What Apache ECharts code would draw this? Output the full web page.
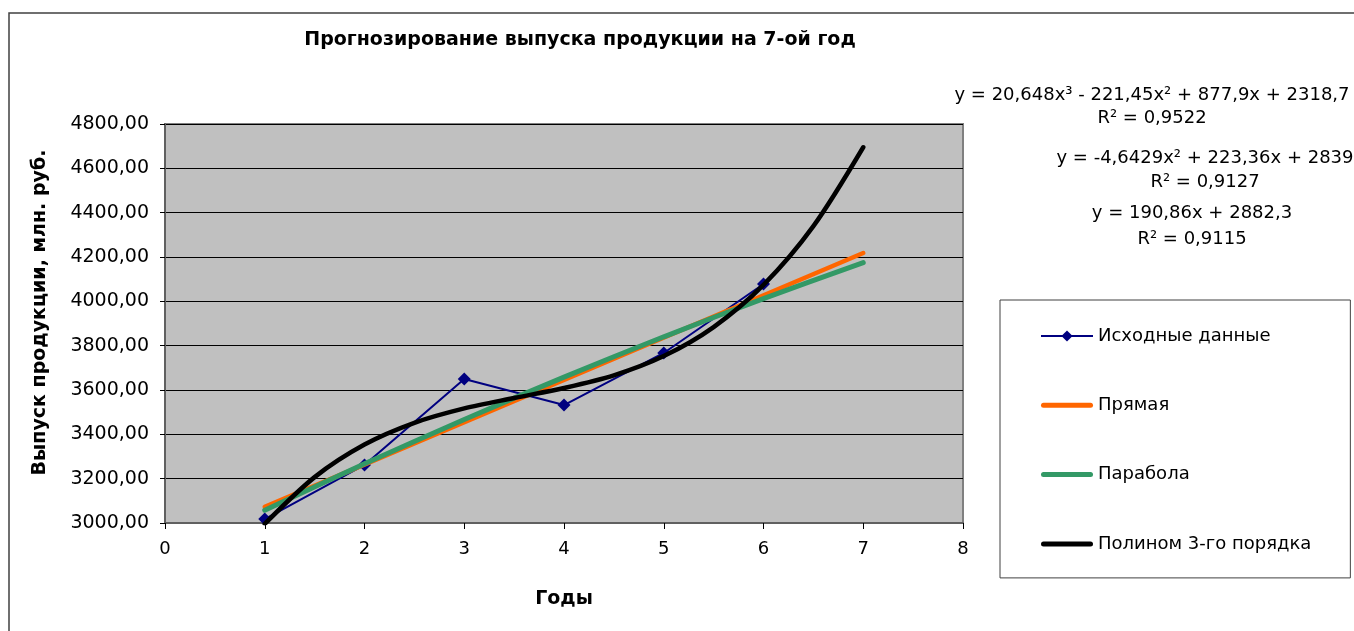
<!DOCTYPE html>
<html>
<head>
<meta charset="utf-8">
<script src="https://cdn.jsdelivr.net/npm/echarts@6/dist/echarts.min.js"></script>
<style>
  html, body { margin: 0; padding: 0; background: #fff; }
  #chart { width: 1354px; height: 631px; }
</style>
</head>
<body>
<div id="chart"></div>
<script>
// исходные данные
var years = [1, 2, 3, 4, 5, 6]
var output = [3018, 3262, 3650, 3532, 3767, 4078]
// линии тренда
var lineX = [1, 7]
var lineY = [3073, 4218]
var parabolaX = [1, 2, 3, 4, 5, 6, 7]
var parabolaY = [3058, 3267, 3467, 3658, 3840, 4012, 4175]
var cubicX = [1, 1.5, 2, 2.5, 3, 3.5, 4, 4.5, 5, 5.5, 6, 6.5, 7]
var cubicY = [2996, 3207, 3354, 3452, 3517, 3564, 3609, 3666, 3753, 3884, 4074, 4339, 4695]
var equations = [
  'y = 20,648x³ - 221,45x² + 877,9x + 2318,7', 'R² = 0,9522',
  'y = -4,6429x² + 223,36x + 2839', 'R² = 0,9127',
  'y = 190,86x + 2882,3', 'R² = 0,9115'
]

function pairs(xs, ys) {
  return xs.map(function (x, i) { return [x, ys[i]] })
}

var font = 'DejaVu Sans'
var eqPos = [[1152, 95], [1152, 118], [1205, 158], [1205, 182], [1192, 213], [1192, 239]]
var barIcon = 'path://M2.5,0 L49.5,0 A2.5,2.5 0 0 1 49.5,5 L2.5,5 A2.5,2.5 0 0 1 2.5,0 Z'

var chart = echarts.init(document.getElementById('chart'))
chart.setOption({
  backgroundColor: '#fff',
  animation: false,
  textStyle: { fontFamily: font },
  title: {
    text: 'Прогнозирование выпуска продукции на 7-ой год',
    left: 580,
    top: 31,
    padding: 0,
    textAlign: 'center',
    textStyle: { fontFamily: font, fontSize: 19, fontWeight: 'bold', color: '#000' }
  },
  grid: {
    left: 165,
    right: 391,
    top: 124,
    bottom: 108,
    show: true,
    backgroundColor: '#c0c0c0',
    borderColor: '#808080',
    borderWidth: 2
  },
  legend: {
    orient: 'vertical',
    left: 1000,
    top: 300,
    padding: [27, 39, 25, 40],
    itemGap: 51.3,
    itemWidth: 52,
    itemHeight: 14,
    backgroundColor: '#fff',
    borderColor: '#404040',
    borderWidth: 1,
    textStyle: { fontFamily: font, fontSize: 18, color: '#000' },
    data: [
      { name: 'Исходные данные' },
      { name: 'Прямая', icon: barIcon },
      { name: 'Парабола', icon: barIcon },
      { name: 'Полином 3-го порядка', icon: barIcon }
    ]
  },
  xAxis: {
    type: 'value',
    min: 0,
    max: 8,
    interval: 1,
    name: 'Годы',
    nameLocation: 'middle',
    nameGap: 67,
    nameTextStyle: { fontFamily: font, fontSize: 19, fontWeight: 'bold', color: '#000' },
    axisLine: { onZero: false, lineStyle: { color: '#606060', width: 2 } },
    axisTick: { show: true, length: 6, lineStyle: { color: '#000' } },
    axisLabel: { margin: 17, fontSize: 18, color: '#000' },
    splitLine: { show: false }
  },
  yAxis: {
    type: 'value',
    min: 3000,
    max: 4800,
    interval: 200,
    name: 'Выпуск продукции, млн. руб.',
    nameLocation: 'middle',
    nameGap: 115,
    nameTextStyle: { fontFamily: font, fontSize: 19, fontWeight: 'bold', color: '#000', padding: [0, 0, 0, 22] },
    axisLine: { show: true, lineStyle: { color: '#606060', width: 2 } },
    axisTick: { show: true, length: 5, lineStyle: { color: '#000' } },
    axisLabel: {
      margin: 16,
      fontSize: 19,
      color: '#000',
      formatter: function (v) { return v.toFixed(2).replace('.', ',') }
    },
    splitLine: { show: true, lineStyle: { color: '#000', width: 1 } }
  },
  graphic: [
    {
      type: 'rect',
      silent: true,
      shape: { x: 9, y: 13, width: 1400, height: 700 },
      style: { fill: 'none', stroke: '#404040', lineWidth: 1.5 }
    }
  ].concat(equations.map(function (t, i) {
    return {
      type: 'text',
      x: eqPos[i][0],
      y: eqPos[i][1],
      style: {
        text: t,
        fill: '#000',
        font: '18px "' + font + '"',
        textAlign: 'center',
        textVerticalAlign: 'middle'
      }
    }
  })),
  series: [
    {
      name: 'Исходные данные',
      type: 'line',
      data: pairs(years, output),
      symbol: 'diamond',
      symbolSize: 13,
      color: '#000080',
      lineStyle: { color: '#000080', width: 2 },
      itemStyle: { color: '#000080' },
      z: 2
    },
    {
      name: 'Прямая',
      type: 'line',
      data: pairs(lineX, lineY),
      symbol: 'none',
      color: '#ff6600',
      lineStyle: { color: '#ff6600', width: 4.5, cap: 'round' },
      z: 3
    },
    {
      name: 'Парабола',
      type: 'line',
      data: pairs(parabolaX, parabolaY),
      symbol: 'none',
      smooth: 0.3,
      color: '#339966',
      lineStyle: { color: '#339966', width: 5, cap: 'round' },
      z: 4
    },
    {
      name: 'Полином 3-го порядка',
      type: 'line',
      data: pairs(cubicX, cubicY),
      symbol: 'none',
      smooth: 0.3,
      color: '#000',
      lineStyle: { color: '#000', width: 4.5, cap: 'round' },
      z: 5
    }
  ]
})
</script>
</body>
</html>
